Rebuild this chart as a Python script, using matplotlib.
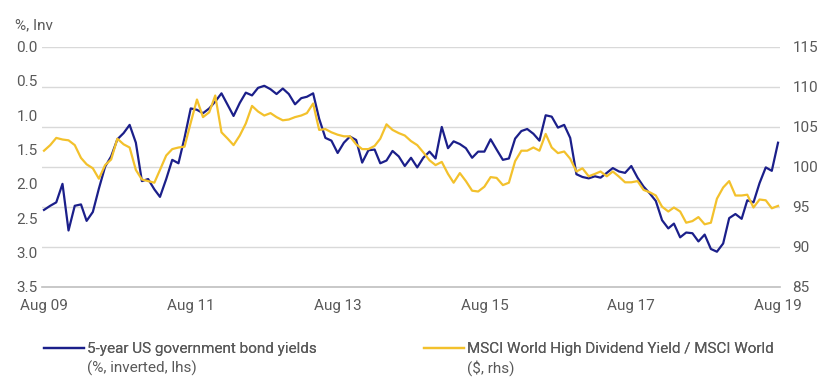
import numpy as np
import pandas as pd
import matplotlib
matplotlib.use('Agg')
import matplotlib.pyplot as plt

plt.rcParams['font.family'] = ['Roboto', 'DejaVu Sans']

# ===================== data (monthly, Aug 2009 - Aug 2019) =====================
months = pd.date_range('2009-08-01', '2019-08-01', freq='MS')

# 5-year US government bond yield, % (plotted inverted, left axis)
yield_5y = [
    2.38, 2.32, 2.27, 2.00, 2.68, 2.32, 2.30, 2.54, 2.41, 2.07, 1.75, 1.60,
    1.35, 1.26, 1.14, 1.40, 1.96, 1.93, 2.08, 2.19, 1.93, 1.65, 1.70, 1.33,
    0.90, 0.92, 0.97, 0.90, 0.80, 0.68, 0.85, 1.01, 0.82, 0.67, 0.71, 0.60,
    0.57, 0.62, 0.69, 0.61, 0.69, 0.84, 0.75, 0.73, 0.68, 1.05, 1.33, 1.37,
    1.55, 1.40, 1.31, 1.36, 1.69, 1.51, 1.50, 1.70, 1.66, 1.52, 1.60, 1.74,
    1.62, 1.76, 1.62, 1.53, 1.63, 1.17, 1.48, 1.38, 1.42, 1.48, 1.62, 1.53,
    1.53, 1.35, 1.50, 1.65, 1.63, 1.34, 1.23, 1.20, 1.27, 1.37, 1.00, 1.02,
    1.18, 1.14, 1.33, 1.86, 1.90, 1.92, 1.89, 1.91, 1.84, 1.77, 1.82, 1.84,
    1.74, 1.91, 2.04, 2.14, 2.25, 2.53, 2.65, 2.58, 2.78, 2.71, 2.72, 2.84,
    2.74, 2.95, 2.99, 2.87, 2.50, 2.44, 2.51, 2.24, 2.27, 1.99, 1.76, 1.81,
    1.40,
]

# MSCI World High Dividend Yield / MSCI World, $ (right axis)
hdy_ratio = [
    102.0, 102.7, 103.6, 103.4, 103.3, 102.7, 101.1, 100.3, 99.8, 98.5, 100.2, 100.9,
    103.5, 102.8, 102.4, 99.6, 98.4, 98.2, 98.0, 99.6, 101.4, 102.2, 102.4, 102.5,
    105.5, 108.4, 106.2, 106.8, 108.9, 104.3, 103.5, 102.7, 103.9, 105.4, 107.6, 106.9,
    106.4, 106.7, 106.2, 105.8, 105.9, 106.2, 106.4, 106.7, 107.9, 104.6, 104.7, 104.3,
    104.0, 103.8, 103.8, 102.8, 102.2, 102.2, 102.6, 103.5, 105.3, 104.6, 104.2, 103.9,
    103.2, 102.7, 101.8, 100.8, 100.2, 100.6, 99.1, 98.0, 99.2, 98.2, 97.0, 96.9,
    97.5, 98.7, 98.6, 97.7, 98.0, 100.7, 102.0, 102.0, 102.4, 102.0, 104.1, 102.4,
    101.7, 101.9, 101.0, 99.4, 99.8, 98.8, 99.1, 99.4, 98.8, 99.4, 98.75, 98.05,
    98.05, 98.2, 97.1, 96.8, 96.4, 95.0, 94.4, 94.9, 94.4, 93.0, 93.2, 93.7,
    92.8, 93.0, 96.0, 97.4, 98.2, 96.4, 96.4, 96.5, 94.9, 95.9, 95.8, 94.8,
    95.1,
]

tick_dates = pd.to_datetime(['2009-08-01', '2011-08-01', '2013-08-01',
                             '2015-08-01', '2017-08-01', '2019-08-01'])
tick_labels = ['Aug 09', 'Aug 11', 'Aug 13', 'Aug 15', 'Aug 17', 'Aug 19']
left_ticks = [0.0, 0.5, 1.0, 1.5, 2.0, 2.5, 3.0, 3.5]
right_ticks = [85, 90, 95, 100, 105, 110, 115]

legend_first = ['5-year US government bond yields',
                'MSCI World High Dividend Yield / MSCI World']
legend_second = ['(%, inverted, lhs)', '($, rhs)']

BLUE = '#1b1f8a'
YELLOW = '#f3c12c'
TXT = '#595959'
GRID = '#d9d9d9'

# ===================== figure =====================
fig = plt.figure(figsize=(8.25, 3.88), dpi=100)
ax = fig.add_axes([0.0509, 0.2611, 0.8946, 0.6185])
ax2 = ax.twinx()

ax.plot(months, yield_5y, color=BLUE, lw=1.6, solid_joinstyle='round')
ax2.plot(months, hdy_ratio, color=YELLOW, lw=1.6, solid_joinstyle='round')

lo, hi = left_ticks[-1], left_ticks[0]
ax.set_ylim(lo, hi)
ax2.set_ylim(right_ticks[0], right_ticks[-1])
ax.set_xlim(months[0] - pd.Timedelta(days=10), months[-1] + pd.Timedelta(days=10))

# gridlines follow the right-hand scale, drawn on the back axis
r0, r1 = right_ticks[0], right_ticks[-1]
grid_pos = [lo + (r - r0) / (r1 - r0) * (hi - lo) for r in right_ticks[1:]]
ax.yaxis.remove_overlapping_locs = False
ax.set_yticks(grid_pos, minor=True)
ax.yaxis.grid(True, which='minor', color=GRID, lw=1.0)
ax.tick_params(axis='y', which='minor', length=0)

ax.set_yticks(left_ticks)
ax.set_yticklabels([f'{v:.1f}' for v in left_ticks])
ax2.set_yticks(right_ticks)
ax2.set_yticklabels([str(v) for v in right_ticks])
ax.set_xticks(tick_dates)
ax.set_xticklabels(tick_labels)

ax.tick_params(axis='y', which='major', length=0, pad=3, labelsize=11, labelcolor=TXT)
ax2.tick_params(axis='y', length=0, pad=9, labelsize=11, labelcolor=TXT)
ax.tick_params(axis='x', length=0, pad=9, labelsize=11, labelcolor=TXT)

for a in (ax, ax2):
    for s in a.spines.values():
        s.set_visible(False)
ax.spines['bottom'].set_visible(True)
ax.spines['bottom'].set_color('#bfbfbf')
ax.spines['bottom'].set_linewidth(1.2)

fig.text(15 / 825, 1 - 25 / 388, '%, Inv', fontsize=11, color=TXT, va='center', ha='left')

# ===================== legend =====================
h1, = ax.plot([], [], color=BLUE, lw=1.6)
h2, = ax2.plot([], [], color=YELLOW, lw=1.6)
legs = []
for h, lab, x0 in zip([h1, h2], legend_first, [44, 424]):
    lg = fig.legend([h], [lab], loc='upper left',
                    bbox_to_anchor=(x0 / 825, 1 - 342 / 388),
                    frameon=False, fontsize=11, handlelength=2.6, handletextpad=0.2,
                    borderpad=0, borderaxespad=0, labelcolor=TXT)
    fig.add_artist(lg)
    legs.append(lg)

# second label line sits under the first, aligned with its text
fig.canvas.draw()
for lg, lab2 in zip(legs, legend_second):
    bb = lg.get_texts()[0].get_window_extent()
    fig.text(bb.x0 / fig.bbox.width, (bb.y0 - 20) / fig.bbox.height, lab2,
             fontsize=11, color=TXT, ha='left', va='bottom')

fig.savefig('out.png', dpi=100)
